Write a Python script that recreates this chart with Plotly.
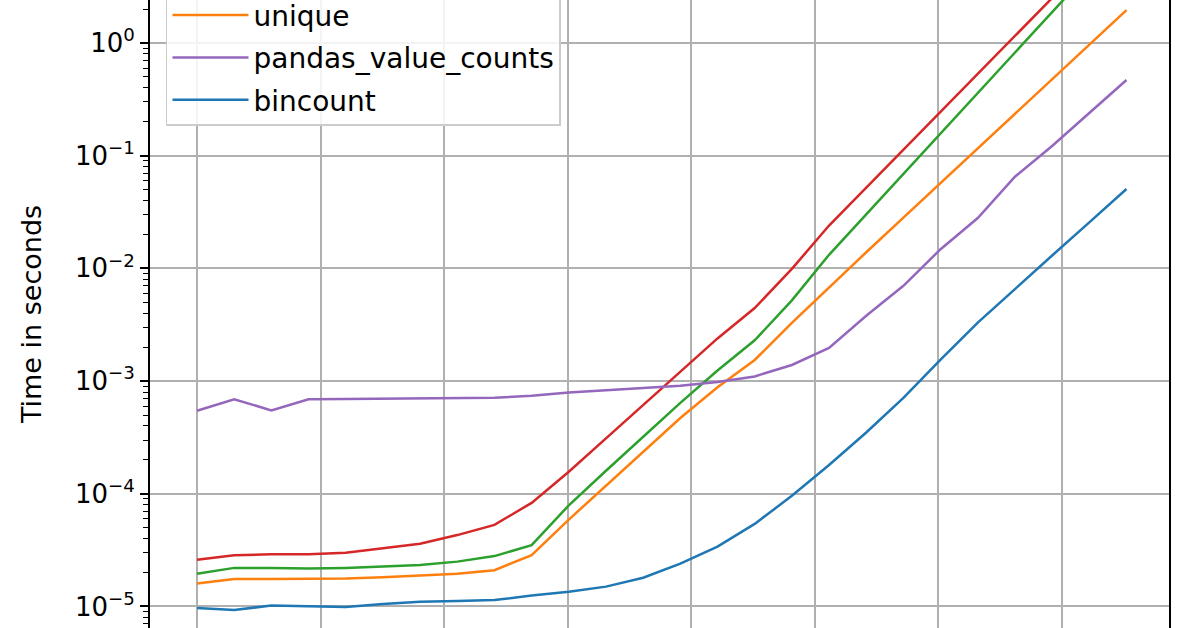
import plotly.graph_objects as go

# problem sizes (2^0 .. 2^25)
n = [1, 2, 4, 8, 16, 32, 64, 128, 256, 512, 1024, 2048, 4096, 8192, 16384,
     32768, 65536, 131072, 262144, 524288, 1048576, 2097152, 4194304,
     8388608, 16777216, 33554432]

# timings in seconds
bincount = [9.7e-6, 9.3e-6, 1.02e-5, 1.0e-5, 9.9e-6, 1.05e-5, 1.1e-5, 1.12e-5,
            1.14e-5, 1.25e-5, 1.35e-5, 1.5e-5, 1.8e-5, 2.4e-5, 3.4e-5, 5.4e-5,
            9.6e-5, 1.8e-4, 3.5e-4, 7.1e-4, 1.55e-3, 3.3e-3, 6.6e-3, 1.3e-2,
            2.56e-2, 5.06e-2]
unique = [1.6e-5, 1.75e-5, 1.75e-5, 1.75e-5, 1.77e-5, 1.82e-5, 1.87e-5, 1.95e-5,
          2.1e-5, 2.85e-5, 5.9e-5, 1.18e-4, 2.37e-4, 4.7e-4, 8.8e-4, 1.54e-3,
          3.28e-3, 6.8e-3, 1.39e-2, 2.82e-2, 5.7e-2, 0.116, 0.235, 0.477, 0.97,
          1.96]
green_series = [1.95e-5, 2.2e-5, 2.2e-5, 2.17e-5, 2.2e-5, 2.25e-5, 2.33e-5, 2.5e-5,
                2.8e-5, 3.5e-5, 7.9e-5, 1.6e-4, 3.2e-4, 6.4e-4, 1.24e-3, 2.3e-3,
                5.2e-3, 1.32e-2, 3.02e-2, 6.9e-2, 0.158, 0.36, 0.82, 1.88, 4.3, 9.8]
red_series = [2.6e-5, 2.85e-5, 2.9e-5, 2.9e-5, 3.0e-5, 3.3e-5, 3.6e-5, 4.3e-5,
              5.3e-5, 8.3e-5, 1.57e-4, 3.1e-4, 6.1e-4, 1.2e-3, 2.39e-3, 4.45e-3,
              9.9e-3, 2.4e-2, 5.2e-2, 0.112, 0.245, 0.53, 1.15, 2.5, 5.4, 11.8]
pandas_value_counts = [5.46e-4, 6.9e-4, 5.5e-4, 6.9e-4, 6.95e-4, 7.0e-4, 7.0e-4,
                       7.05e-4, 7.1e-4, 7.4e-4, 7.9e-4, 8.3e-4, 8.7e-4, 9.1e-4,
                       9.8e-4, 1.1e-3, 1.39e-3, 1.97e-3, 3.8e-3, 7.0e-3, 1.48e-2,
                       2.8e-2, 6.5e-2, 0.122, 0.239, 0.47]

ytick_vals = [1, 1e-1, 1e-2, 1e-3, 1e-4, 1e-5]
ytick_text = ["10<sup>0</sup>", "10<sup>\u22121</sup>", "10<sup>\u22122</sup>",
              "10<sup>\u22123</sup>", "10<sup>\u22124</sup>", "10<sup>\u22125</sup>"]

# (label, values, colour, legend position) in matplotlib colour-cycle order
series = [
    ("bincount", bincount, "#1f77b4", 5),
    ("unique", unique, "#ff7f0e", 3),
    ("itemfreq", green_series, "#2ca02c", 2),
    ("counter", red_series, "#d62728", 1),
    ("pandas_value_counts", pandas_value_counts, "#9467bd", 4),
]

fig = go.Figure()
for name, vals, color, rank in series:
    fig.add_trace(go.Scatter(x=n, y=vals, name=name, mode="lines",
                             line=dict(color=color, width=2.5),
                             legendgroup=name, legendrank=rank))

fig.update_layout(
    width=1196,
    height=628,
    template="none",
    paper_bgcolor="white",
    plot_bgcolor="white",
    font=dict(family="DejaVu Sans", size=26, color="black"),
    margin=dict(l=150, r=27, t=0, b=0, autoexpand=False),
    showlegend=True,
    legend=dict(
        x=0.0157, y=0.7994, xanchor="left", yanchor="bottom",
        bgcolor="rgba(255,255,255,0.85)", bordercolor="#cccccc", borderwidth=1.5,
        font=dict(size=28), traceorder="grouped", tracegroupgap=3,
        itemwidth=76,
    ),
)
fig.update_xaxes(
    type="log", range=[-0.3806, 7.870], dtick=1,
    showgrid=True, gridcolor="#b0b0b0", gridwidth=2,
    showline=False, zeroline=False, showticklabels=False, ticks="",
    automargin=False,
)
fig.update_yaxes(
    type="log", range=[-5.191, 0.3815],
    tickmode="array", tickvals=ytick_vals, ticktext=ytick_text,
    ticks="outside", ticklen=8, tickwidth=1.5, tickcolor="black",
    minor=dict(ticks="outside", ticklen=5, tickwidth=1.2, tickcolor="black",
               dtick="D1", showgrid=False),
    showgrid=True, gridcolor="#b0b0b0", gridwidth=2,
    showline=True, linecolor="black", linewidth=2, mirror=True,
    zeroline=False, automargin=False,
    title=dict(text="Time in seconds", font=dict(size=27), standoff=25),
)

fig.write_html("out.html", config={"displayModeBar": False},
               post_script="document.body.style.margin='0px';")
